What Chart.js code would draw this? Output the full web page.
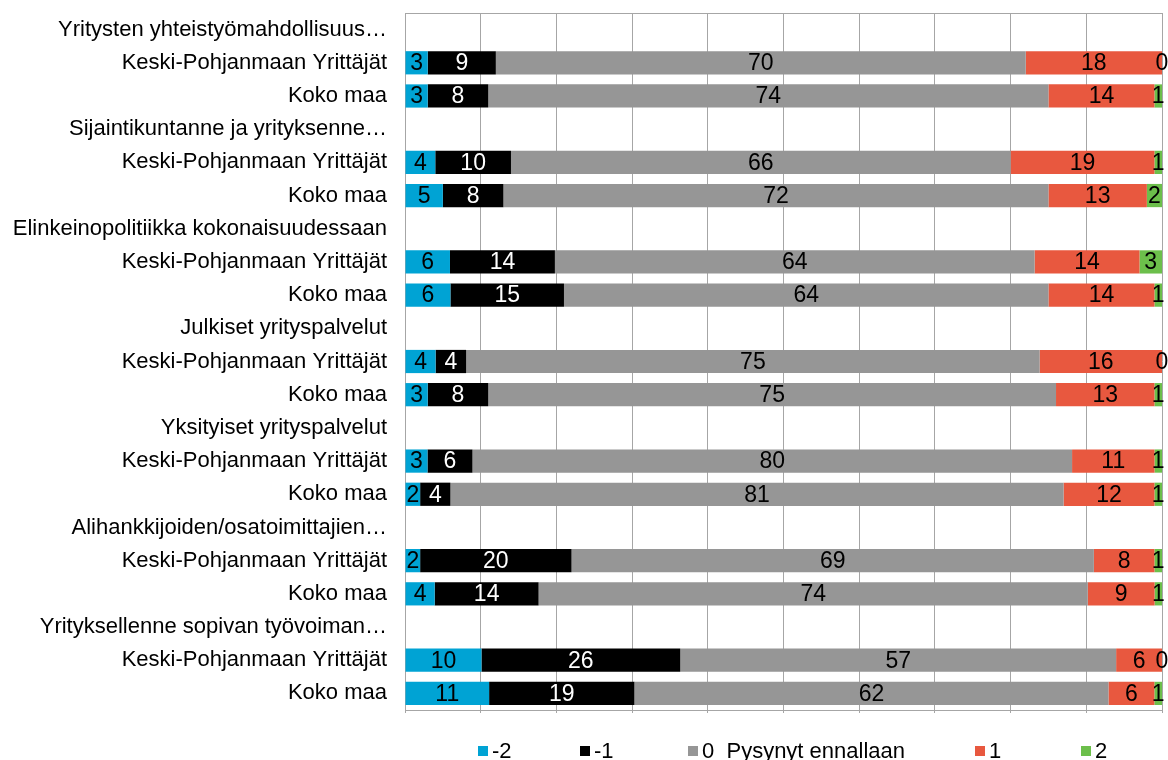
<!DOCTYPE html>
<html>
<head>
<meta charset="utf-8">
<script src="https://cdn.jsdelivr.net/npm/chart.js@4.4.1/dist/chart.umd.min.js"></script>
<style>
  html, body { margin: 0; padding: 0; background: #fff; }
  #wrap { position: relative; width: 1168px; height: 760px; }
  #c { position: absolute; left: 0; top: 0; }
  #legend { position: absolute; left: 478px; top: 738px; display: flex; font-family: "Liberation Sans", Arial, sans-serif; font-size: 22px; color: #000; white-space: pre; }
  #legend .item { display: flex; align-items: center; }
  #legend .box { width: 10px; height: 10px; margin-right: 4px; }
</style>
</head>
<body>
<div id="wrap">
  <canvas id="c" width="1168" height="760"></canvas>
  <div id="legend"></div>
</div>
<script>
const KPY = "Keski-Pohjanmaan Yrittäjät";
const KM = "Koko maa";
const categories = [
  "Yritysten yhteistyömahdollisuus…", KPY, KM,
  "Sijaintikuntanne ja yrityksenne…", KPY, KM,
  "Elinkeinopolitiikka kokonaisuudessaan", KPY, KM,
  "Julkiset yrityspalvelut", KPY, KM,
  "Yksityiset yrityspalvelut", KPY, KM,
  "Alihankkijoiden/osatoimittajien…", KPY, KM,
  "Yrityksellenne sopivan työvoiman…", KPY, KM
];
const seriesNames = ["-2", "-1", "0  Pysynyt ennallaan", "1", "2"];
const minus2 = [null,3,3, null,4,5, null,6,6, null,4,3, null,3,2, null,2,4, null,10,11];
const minus1 = [null,9,8, null,10,8, null,14,15, null,4,8, null,6,4, null,20,14, null,26,19];
const zero   = [null,70,74, null,66,72, null,64,64, null,75,75, null,80,81, null,69,74, null,57,62];
const plus1  = [null,18,14, null,19,13, null,14,14, null,16,13, null,11,12, null,8,9, null,6,6];
const plus2  = [null,0,1, null,1,2, null,3,1, null,0,1, null,1,1, null,1,1, null,0,1];

const colors = ["#00A3D4", "#000000", "#969696", "#E8583F", "#6CBF4B"];
const labelColors = ["#000000", "#ffffff", "#000000", "#000000", "#000000"];
const raw = [minus2, minus1, zero, plus1, plus2];

// 100% stacked: share of each row total
const totals = categories.map((_, i) => raw.reduce((s, arr) => s + (arr[i] || 0), 0));
const datasets = raw.map((arr, k) => ({
  label: seriesNames[k],
  data: arr.map((v, i) => v === null ? null : v / totals[i] * 100),
  rawValues: arr,
  backgroundColor: colors[k],
  borderWidth: 0,
  categoryPercentage: 1.0,
  barPercentage: 0.7
}));

const FONT = '"Liberation Sans", Arial, sans-serif';

const labelPlugin = {
  id: 'segLabels',
  afterDatasetsDraw(chart) {
    const ctx = chart.ctx;
    ctx.save();
    ctx.font = '23px ' + FONT;
    ctx.textAlign = 'center';
    ctx.textBaseline = 'middle';
    chart.data.datasets.forEach((ds, k) => {
      const meta = chart.getDatasetMeta(k);
      meta.data.forEach((el, i) => {
        const v = ds.rawValues[i];
        if (v === null || v === undefined) return;
        const x = (el.x + el.base) / 2;
        ctx.fillStyle = labelColors[k];
        ctx.fillText(String(v), x, el.y + 1);
      });
    });
    ctx.restore();
  }
};

const framePlugin = {
  id: 'frame',
  afterDraw(chart) {
    const a = chart.chartArea;
    const ctx = chart.ctx;
    ctx.save();
    ctx.strokeStyle = '#a6a6a6';
    ctx.lineWidth = 1;
    ctx.beginPath();
    ctx.moveTo(a.left, a.top + 0.5);
    ctx.lineTo(a.right, a.top + 0.5);
    ctx.stroke();
    ctx.restore();
  }
};

new Chart(document.getElementById('c'), {
  type: 'bar',
  data: { labels: categories, datasets },
  options: {
    indexAxis: 'y',
    responsive: false,
    animation: false,
    layout: { padding: { top: 13, right: 6, bottom: 47, left: 0 } },
    plugins: { legend: { display: false }, tooltip: { enabled: false } },
    scales: {
      x: {
        stacked: true, min: 0, max: 100,
        ticks: { display: false, stepSize: 10 },
        grid: { color: '#a6a6a6', lineWidth: 1, drawTicks: true, tickLength: 3 },
        border: { color: '#a6a6a6' }
      },
      y: {
        stacked: true,
        afterFit(scale) { scale.width = 405; scale.paddingTop = 0; scale.paddingBottom = 0; },
        ticks: { color: '#000', font: { family: FONT, size: 22 }, padding: 18, autoSkip: false },
        grid: { display: false, drawTicks: false },
        border: { color: '#a6a6a6' }
      }
    }
  },
  plugins: [labelPlugin, framePlugin]
});

// HTML legend built from the series
const widths = [102, 108, 287, 106, 80];
const leg = document.getElementById('legend');
seriesNames.forEach((name, k) => {
  const it = document.createElement('div');
  it.className = 'item';
  it.style.width = widths[k] + 'px';
  const b = document.createElement('span');
  b.className = 'box';
  b.style.background = colors[k];
  const t = document.createElement('span');
  t.textContent = name;
  it.appendChild(b); it.appendChild(t);
  leg.appendChild(it);
});
</script>
</body>
</html>
